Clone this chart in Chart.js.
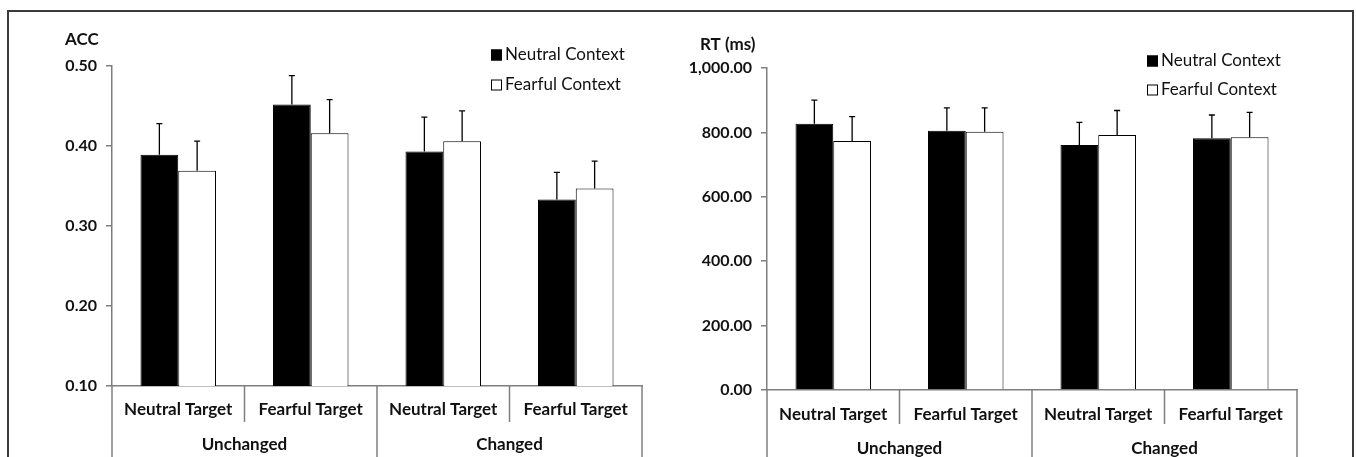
<!DOCTYPE html>
<html>
<head>
<meta charset="utf-8">
<title>ACC and RT by target and context</title>
<script src="https://cdn.jsdelivr.net/npm/chart.js@4.4.0/dist/chart.umd.min.js"></script>
<style>
  html, body { margin: 0; padding: 0; background: #fff; }
  #page { position: relative; width: 1356px; height: 457px; overflow: hidden; }
  #frame { position: absolute; left: 7px; top: 10px; width: 1343px; height: 480px; border: 2px solid #3a3a3a; }
  .box { position: absolute; top: 0; height: 457px; }
  #accBox { left: 0; width: 680px; }
  #rtBox { left: 680px; width: 676px; }
</style>
</head>
<body>
<div id="page">
  <div id="frame"></div>
  <div class="box" id="accBox"><canvas id="accChart"></canvas></div>
  <div class="box" id="rtBox"><canvas id="rtChart"></canvas></div>
</div>
<script>
// categories on the x axis, and the two groups under them
var categories = ['Neutral Target', 'Fearful Target', 'Neutral Target', 'Fearful Target'];
var groups = ['Unchanged', 'Changed'];
var seriesNames = ['Neutral Context', 'Fearful Context'];

// accuracy (left panel), means and error bar sizes
var accNeutral = [0.389, 0.452, 0.393, 0.333];
var accNeutralErr = [0.039, 0.036, 0.043, 0.034];
var accFearful = [0.369, 0.416, 0.406, 0.347];
var accFearfulErr = [0.037, 0.042, 0.038, 0.034];
var accTicks = [0.10, 0.20, 0.30, 0.40, 0.50];

// reaction time in ms (right panel)
var rtNeutral = [827, 805, 761, 782];
var rtNeutralErr = [73, 71, 70, 72];
var rtFearful = [773, 802, 792, 785];
var rtFearfulErr = [76, 74, 76, 77];
var rtTicks = [0, 200, 400, 600, 800, 1000];

var FONT = 'Lato, "Open Sans", sans-serif';
var INK = '#111';
var AXIS = '#7f7f7f';

// draws the +error whisker on top of every bar
var errorBars = {
  id: 'errorBars',
  afterDatasetsDraw: function (chart) {
    var ctx = chart.ctx, y = chart.scales.y;
    ctx.save();
    ctx.strokeStyle = '#000';
    ctx.lineWidth = 1.3;
    chart.data.datasets.forEach(function (ds, i) {
      chart.getDatasetMeta(i).data.forEach(function (bar, j) {
        var top = y.getPixelForValue(ds.data[j] + ds.errors[j]);
        ctx.beginPath();
        ctx.moveTo(bar.x, bar.y);
        ctx.lineTo(bar.x, top);
        ctx.moveTo(bar.x - 3, top);
        ctx.lineTo(bar.x + 3, top);
        ctx.stroke();
      });
    });
    ctx.restore();
  }
};

// category dividers, group labels, axis title and the little legend
var extras = {
  id: 'extras',
  afterDraw: function (chart, args, o) {
    var ctx = chart.ctx, a = chart.chartArea, n = chart.data.labels.length;
    var w = (a.right - a.left) / n;
    ctx.save();
    ctx.strokeStyle = AXIS;
    ctx.lineWidth = 1.5;
    for (var i = 0; i <= n; i++) {
      var x = a.left + i * w;
      ctx.beginPath();
      ctx.moveTo(x, a.bottom);
      ctx.lineTo(x, i % 2 === 0 ? chart.height : o.innerEnd);
      ctx.stroke();
    }
    ctx.fillStyle = INK;
    ctx.font = 'bold 17px ' + FONT;
    ctx.textAlign = 'center';
    ctx.textBaseline = 'middle';
    groups.forEach(function (g, k) {
      ctx.fillText(g, a.left + (2 * k + 1) * w, o.groupY);
    });
    ctx.textAlign = 'left';
    ctx.fillText(o.title, o.titleX, o.titleY);

    ctx.font = '17px ' + FONT;
    chart.data.datasets.forEach(function (ds, k) {
      var yy = o.legendY[k];
      ctx.fillStyle = ds.backgroundColor;
      ctx.fillRect(o.legendX, yy - 5.5, 11, 11);
      ctx.strokeStyle = '#000';
      ctx.lineWidth = 1;
      ctx.strokeRect(o.legendX + 0.5, yy - 5, 10, 10);
      ctx.fillStyle = INK;
      ctx.fillText(ds.label, o.legendX + 14, yy);
    });
    ctx.restore();
  }
};

function makeChart(id, neutral, neutralErr, fearful, fearfulErr, ticks, fmt, lay) {
  return new Chart(document.getElementById(id), {
    type: 'bar',
    data: {
      labels: categories,
      datasets: [
        { label: seriesNames[0], data: neutral, errors: neutralErr, backgroundColor: '#000', borderColor: '#000', borderWidth: 1 },
        { label: seriesNames[1], data: fearful, errors: fearfulErr, backgroundColor: '#fff', borderColor: '#000', borderWidth: 1 }
      ]
    },
    plugins: [errorBars, extras],
    options: {
      responsive: true,
      maintainAspectRatio: false,
      animation: false,
      datasets: { bar: { categoryPercentage: 0.57, barPercentage: 1 } },
      layout: { padding: { top: lay.top, right: lay.right, left: 0, bottom: 0 } },
      scales: {
        x: {
          afterFit: function (s) { s.height = lay.xHeight; },
          grid: { display: false, drawTicks: false },
          border: { display: true, color: AXIS, width: 1.5 },
          ticks: { font: { family: FONT, size: 17, weight: 'bold' }, color: INK, padding: lay.labelPad, maxRotation: 0, autoSkip: false }
        },
        y: {
          min: ticks[0],
          max: ticks[ticks.length - 1],
          afterFit: function (s) { s.width = lay.yWidth; },
          afterBuildTicks: function (s) { s.ticks = ticks.map(function (v) { return { value: v }; }); },
          grid: { drawOnChartArea: false, drawTicks: true, tickLength: 6, color: AXIS, lineWidth: 1.5 },
          border: { display: true, color: AXIS, width: 1.5 },
          ticks: { font: { family: FONT, size: 16, weight: 'bold' }, color: INK, padding: 9, callback: fmt }
        }
      },
      plugins: {
        legend: { display: false },
        tooltip: { enabled: false },
        extras: lay.extras
      }
    }
  });
}

makeChart('accChart', accNeutral, accNeutralErr, accFearful, accFearfulErr, accTicks,
  function (v) { return Number(v).toFixed(2); },
  { top: 66, right: 38, xHeight: 71, yWidth: 112, labelPad: 13,
    extras: { innerEnd: 422, groupY: 445, title: 'ACC', titleX: 65, titleY: 40, legendX: 491, legendY: [55, 85] } });

makeChart('rtChart', rtNeutral, rtNeutralErr, rtFearful, rtFearfulErr, rtTicks,
  function (v) { return Number(v).toLocaleString('en-US', { minimumFractionDigits: 2, maximumFractionDigits: 2 }); },
  { top: 68, right: 59, xHeight: 67, yWidth: 87, labelPad: 14,
    extras: { innerEnd: 424, groupY: 449, title: 'RT (ms)', titleX: 700 - 680, titleY: 45, legendX: 467, legendY: [61, 90] } });
</script>
</body>
</html>
